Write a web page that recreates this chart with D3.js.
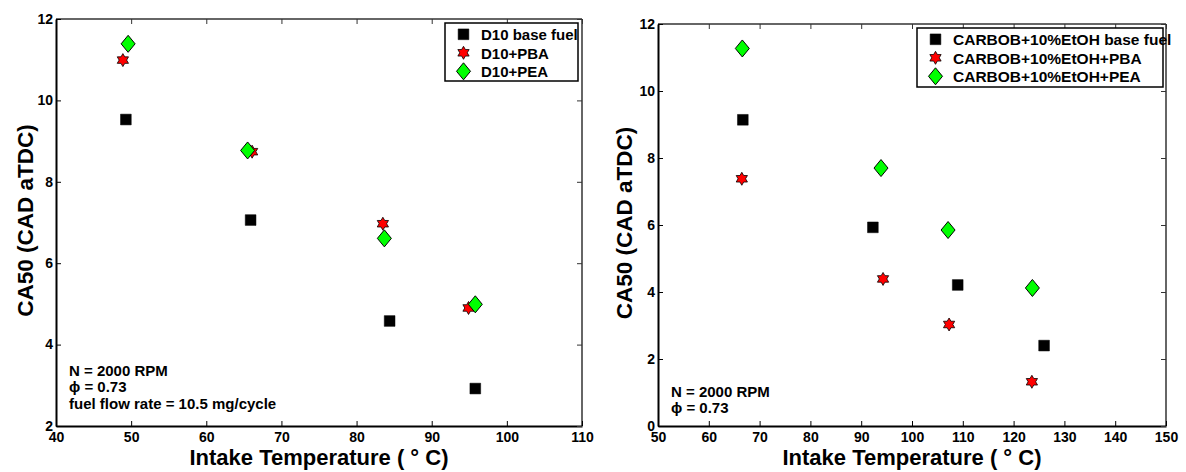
<!DOCTYPE html>
<html>
<head>
<meta charset="utf-8">
<script src="https://cdn.jsdelivr.net/npm/d3@7"></script>
<style>
  html, body { margin: 0; padding: 0; background: #fff; }
  svg { display: block; font-family: "Liberation Sans", Arial, sans-serif; font-weight: bold; }
</style>
</head>
<body>
<svg id="chart" width="1186" height="472"></svg>
<script>
// ---- D10 panel ----
const d10Temp_base = [49.3, 65.9, 84.4, 95.8];
const d10CA50_base = [9.53, 7.06, 4.58, 2.92];
const d10Temp_pba  = [48.9, 66.1, 83.5, 94.9];
const d10CA50_pba  = [10.99, 8.74, 6.97, 4.90];
const d10Temp_pea  = [49.6, 65.5, 83.7, 95.8];
const d10CA50_pea  = [11.39, 8.77, 6.61, 4.99];
const d10Labels = ["D10 base fuel", "D10+PBA", "D10+PEA"];
const d10XTicks = [40, 50, 60, 70, 80, 90, 100, 110];
const d10YTicks = [2, 4, 6, 8, 10, 12];
const d10Notes = ["N = 2000 RPM", "\u03d5 = 0.73", "fuel flow rate = 10.5 mg/cycle"];

// ---- CARBOB + 10% EtOH panel ----
const cbTemp_base = [66.7, 92.3, 109.0, 126.0];
const cbCA50_base = [9.14, 5.93, 4.21, 2.40];
const cbTemp_pba  = [66.5, 94.3, 107.3, 123.6];
const cbCA50_pba  = [7.38, 4.39, 3.03, 1.32];
const cbTemp_pea  = [66.6, 93.9, 107.1, 123.7];
const cbCA50_pea  = [11.27, 7.70, 5.85, 4.12];
const cbLabels = ["CARBOB+10%EtOH base fuel", "CARBOB+10%EtOH+PBA", "CARBOB+10%EtOH+PEA"];
const cbXTicks = [50, 60, 70, 80, 90, 100, 110, 120, 130, 140, 150];
const cbYTicks = [0, 2, 4, 6, 8, 10, 12];
const cbNotes = ["N = 2000 RPM", "\u03d5 = 0.73"];

const xTitle = "Intake Temperature ( \u00b0 C)";
const yTitle = "CA50 (CAD aTDC)";

// marker shapes
const squarePath = d3.symbol().type(d3.symbolSquare).size(115)();
function diamondPath(w, h) {
  return `M0,${-h/2}L${w/2},0L0,${h/2}L${-w/2},0Z`;
}
// outline of a six-pointed star: alternate outer tips and inner corners
function hexagramPath(r) {
  const inner = r / Math.sqrt(3);
  let d = "";
  for (let i = 0; i < 12; i++) {
    const a = i * Math.PI / 6;
    const rr = i % 2 === 0 ? r : inner;
    d += (i === 0 ? "M" : "L") + (rr * Math.sin(a)).toFixed(2) + "," + (-rr * Math.cos(a)).toFixed(2);
  }
  return d + "Z";
}

const styles = [
  { path: squarePath, fill: "#000", stroke: "#000", sw: 0.5 },
  { path: hexagramPath(6.5), fill: "#ff0000", stroke: "#000", sw: 0.8 },
  { path: diamondPath(14, 17), fill: "#00ff00", stroke: "#000", sw: 1 }
];

const svg = d3.select("#chart");

function panel(cfg) {
  const x = d3.scaleLinear().domain(cfg.xDomain).range([cfg.left, cfg.right]);
  const y = d3.scaleLinear().domain(cfg.yDomain).range([cfg.bottom, cfg.top]);
  const g = svg.append("g");

  // frame: top and right edges lighter, left and bottom axes heavier
  g.append("line").attr("x1", cfg.left).attr("x2", cfg.right).attr("y1", cfg.top).attr("y2", cfg.top)
    .attr("stroke", "#333").attr("stroke-width", 1.5);
  g.append("line").attr("x1", cfg.right).attr("x2", cfg.right).attr("y1", cfg.top).attr("y2", cfg.bottom)
    .attr("stroke", "#333").attr("stroke-width", 1.5);

  // inward ticks on all four sides
  const tl = 5;
  const axB = g.append("g").attr("transform", `translate(0,${cfg.bottom})`)
    .call(d3.axisBottom(x).tickValues(cfg.xTicks).tickSizeInner(-tl).tickSizeOuter(0).tickPadding(6).tickFormat(d3.format("d")));
  const axT = g.append("g").attr("transform", `translate(0,${cfg.top})`)
    .call(d3.axisTop(x).tickValues(cfg.xTicks).tickSizeInner(-tl).tickSizeOuter(0).tickFormat(""));
  const axL = g.append("g").attr("transform", `translate(${cfg.left},0)`)
    .call(d3.axisLeft(y).tickValues(cfg.yTicks).tickSizeInner(-tl).tickSizeOuter(0).tickPadding(3).tickFormat(d3.format("d")));
  const axR = g.append("g").attr("transform", `translate(${cfg.right},0)`)
    .call(d3.axisRight(y).tickValues(cfg.yTicks).tickSizeInner(-tl).tickSizeOuter(0).tickFormat(""));
  [axT, axR].forEach(a => { a.select(".domain").remove(); a.selectAll("line").attr("stroke", "#333"); });
  [axB, axL].forEach(a => {
    a.select(".domain").attr("stroke", "#000").attr("stroke-width", 2);
    a.selectAll("text").attr("font-family", "Liberation Sans, Arial, sans-serif")
      .attr("font-weight", "bold").attr("font-size", 14).attr("fill", "#000");
  });
  axB.selectAll("text").attr("y", 6).attr("dy", "0.71em");
  axL.selectAll("text").attr("x", -3).attr("dy", "0.3em");

  // axis titles
  g.append("text").attr("x", (cfg.left + cfg.right) / 2).attr("y", 465)
    .attr("text-anchor", "middle").attr("font-size", 22).text(xTitle);
  g.append("text").attr("transform", `translate(${cfg.yTitleX},${(cfg.top + cfg.bottom) / 2 - 2}) rotate(-90)`)
    .attr("text-anchor", "middle").attr("font-size", 22.5).text(yTitle);

  // data markers
  cfg.series.forEach((s, i) => {
    const st = styles[i];
    g.append("g").selectAll("path").data(d3.zip(s.t, s.v)).join("path")
      .attr("d", st.path)
      .attr("transform", d => `translate(${x(d[0])},${y(d[1])})`)
      .attr("fill", st.fill).attr("stroke", st.stroke).attr("stroke-width", st.sw);
  });

  // legend
  const lg = g.append("g");
  lg.append("rect").attr("x", cfg.legend.x).attr("y", cfg.legend.y)
    .attr("width", cfg.legend.w).attr("height", cfg.legend.h)
    .attr("fill", "#fff").attr("stroke", "#000").attr("stroke-width", 1.5);
  cfg.labels.forEach((lab, i) => {
    const cy = cfg.legend.y + 11.3 + i * 18.5;
    const st = styles[i];
    lg.append("path").attr("d", st.path).attr("transform", `translate(${cfg.legend.x + 18.5},${cy})`)
      .attr("fill", st.fill).attr("stroke", st.stroke).attr("stroke-width", st.sw);
    lg.append("text").attr("x", cfg.legend.x + 36).attr("y", cy + 6).attr("font-size", cfg.legend.fs).text(lab);
  });

  // operating-condition notes
  cfg.notes.forEach((n, i) => {
    g.append("text").attr("x", cfg.left + 13).attr("y", cfg.noteY + i * 16.4)
      .attr("font-size", 15).text(n);
  });
}

panel({
  xDomain: [40, 110], yDomain: [2, 12],
  left: 56, right: 582, top: 19, bottom: 426,
  xTicks: d10XTicks, yTicks: d10YTicks, yTitleX: 33,
  series: [
    { t: d10Temp_base, v: d10CA50_base },
    { t: d10Temp_pba, v: d10CA50_pba },
    { t: d10Temp_pea, v: d10CA50_pea }
  ],
  labels: d10Labels,
  legend: { x: 445, y: 23, w: 133, h: 58, fs: 15 },
  notes: d10Notes, noteY: 376
});

panel({
  xDomain: [50, 150], yDomain: [0, 12],
  left: 658, right: 1166, top: 24, bottom: 426,
  xTicks: cbXTicks, yTicks: cbYTicks, yTitleX: 632,
  series: [
    { t: cbTemp_base, v: cbCA50_base },
    { t: cbTemp_pba, v: cbCA50_pba },
    { t: cbTemp_pea, v: cbCA50_pea }
  ],
  labels: cbLabels,
  legend: { x: 917, y: 28, w: 246, h: 59, fs: 15.5 },
  notes: cbNotes, noteY: 397
});
</script>
</body>
</html>
